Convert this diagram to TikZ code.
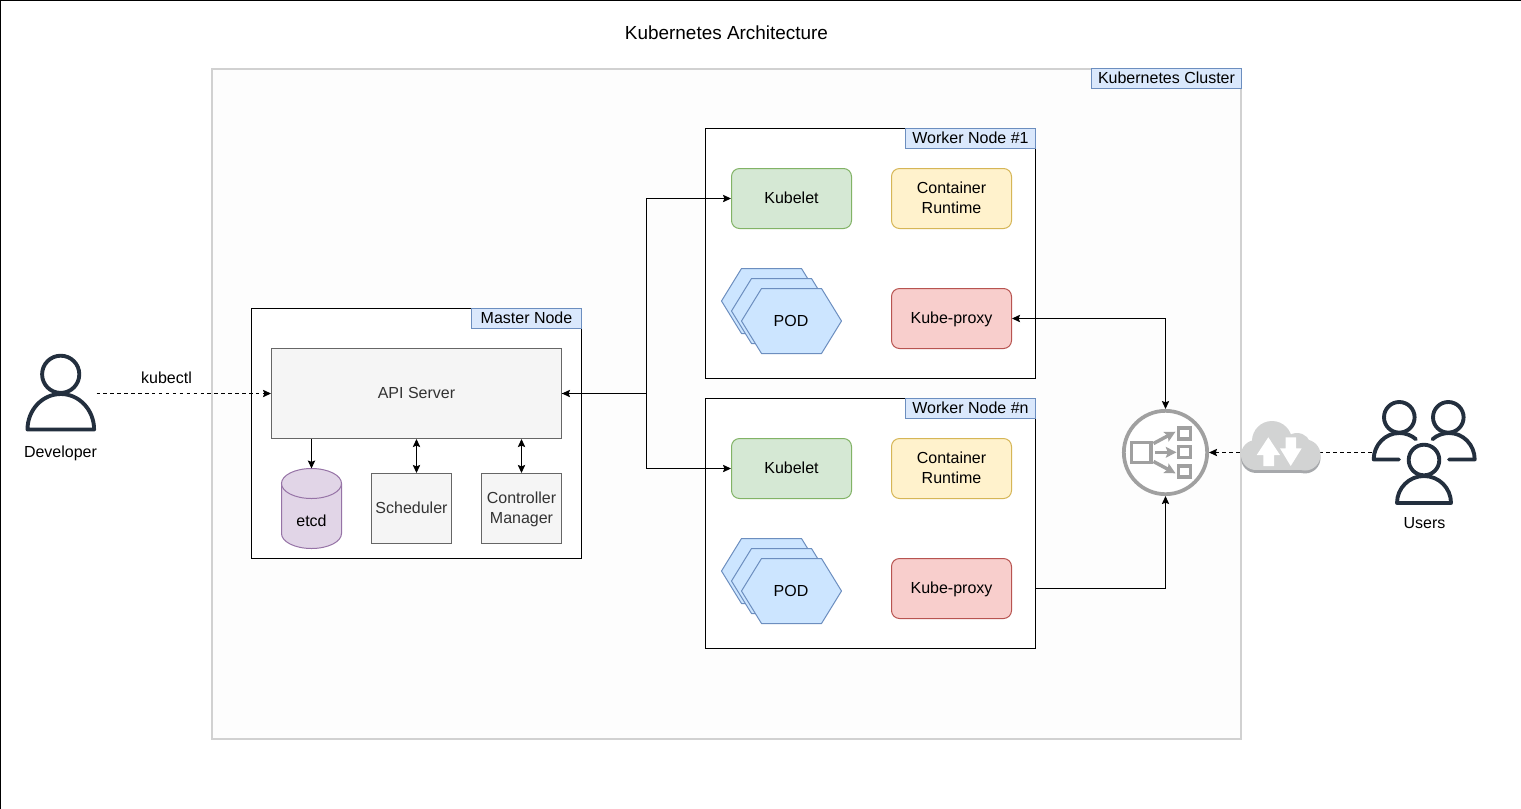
\documentclass[tikz,border=0pt]{standalone}
\usepackage{fontspec}
\setmainfont{Liberation Sans}
\usetikzlibrary{arrows.meta,calc}
\definecolor{blueF}{HTML}{DAE8FC}\definecolor{blueD}{HTML}{6C8EBF}
\definecolor{podF}{HTML}{CCE5FF}\definecolor{podD}{HTML}{6C8EBF}
\definecolor{greyF}{HTML}{F5F5F5}\definecolor{greyD}{HTML}{666666}
\definecolor{greenF}{HTML}{D5E8D4}\definecolor{greenD}{HTML}{82B366}
\definecolor{yelF}{HTML}{FFF2CC}\definecolor{yelD}{HTML}{D6B656}
\definecolor{redF}{HTML}{F8CECC}\definecolor{redD}{HTML}{B85450}
\definecolor{purF}{HTML}{E1D5E7}\definecolor{purD}{HTML}{9673A6}
\definecolor{ink}{HTML}{232F3E}\definecolor{lbgrey}{HTML}{A0A0A0}
\definecolor{cloudF}{HTML}{D2D3D3}\definecolor{cloudD}{HTML}{A7A9AC}
\definecolor{txtgrey}{HTML}{333333}\definecolor{clusterF}{HTML}{FDFDFD}
\tikzset{
  base/.style={font=\fontsize{12}{15}\selectfont,align=center,inner sep=0pt,line width=.75pt,
    execute at begin node={\rule[-3.75pt]{0pt}{15pt}},execute at end node={\rule[-3.75pt]{0pt}{15pt}}},
  tagbox/.style={base,draw=blueD,fill=blueF,minimum height=15pt},
  panel/.style={base,draw=black,fill=white,minimum width=247.5pt,minimum height=187.5pt},
  greybox/.style={base,draw=greyD,fill=greyF,text=txtgrey},
  comp/.style={base,rounded corners=6pt,minimum width=90pt,minimum height=45pt},
  kubelet/.style={comp,draw=greenD,fill=greenF},
  runtime/.style={comp,draw=yelD,fill=yelF},
  proxy/.style={comp,draw=redD,fill=redF},
  podhex/.style={line width=.75pt,draw=podD,fill=podF,line join=round},
  link/.style={line width=.75pt,draw=black,-{Stealth[length=6pt,width=5.5pt,inset=1pt]}},
  linkboth/.style={link,{Stealth[length=6pt,width=5.5pt,inset=1pt]}-{Stealth[length=6pt,width=5.5pt,inset=1pt]}},
  dashlink/.style={link,dash pattern=on 2.6pt off 2.6pt},
  person/.style={draw=ink,line width=2.9pt,line cap=round,line join=round},
  lbline/.style={draw=lbgrey,line width=2.8pt},
}
\newcommand{\twolines}[2]{\makebox[0pt]{\raisebox{7.5pt}[0pt][0pt]{#1}}\makebox[0pt]{\raisebox{-7.5pt}[0pt][0pt]{#2}}}
\newcommand{\hexat}[2]{\path[podhex] (#1,#2+32.5) -- (#1+20,#2) -- (#1+80,#2) -- (#1+100,#2+32.5) -- (#1+80,#2+65) -- (#1+20,#2+65) -- cycle;}
\newcommand{\cloudshape}[1]{%
  \fill[#1] (1272,441) circle (20);
  \fill[#1] (1297,447) circle (14);
  \fill[#1] (1256,455) circle (15);
  \fill[#1] (1305,455) circle (15.5);
  \fill[#1] (1256,440) rectangle (1305,470);}
\begin{document}
\begin{tikzpicture}[x=.75pt,y=-.75pt]
\useasboundingbox (0,0) rectangle (1521,808);
\clip (0,0) rectangle (1521,808);
\fill[white] (0,0) rectangle (1521,808);
\draw[line width=1.1pt,black] (.5,830) -- (.5,.5) -- (1540,.5);
\node[base,font=\fontsize{14.2}{17}\selectfont] (title) at (726.5,34.5) {Kubernetes Architecture};
% cluster
\node[base,draw=black!18,fill=clusterF,line width=1.5pt,minimum width=772pt,minimum height=502.5pt] (cluster) at (726.5,404) {};
\node[tagbox,minimum width=112pt] (clustertag) at (1166.5,78) {Kubernetes Cluster};
% master
\node[panel] (master) at (416.5,433.5) {};
\node[tagbox,minimum width=82.5pt] (mastertag) at (526.5,318.5) {Master Node};
\node[greybox,minimum width=217.5pt,minimum height=67.5pt] (api) at (416.5,393.5) {API Server};
\node[greybox,minimum width=60pt,minimum height=52.5pt] (sched) at (411.5,508.5) {Scheduler};
\node[greybox,minimum width=60pt,minimum height=52.5pt] (ctrl) at (521.5,508.5) {\twolines{Controller}{Manager}};
% etcd cylinder
\path[draw=purD,fill=purF,line width=.75pt] (281.5,483.5) -- (281.5,533.5) arc[start angle=180,end angle=360,x radius=30,y radius=-15] -- (341.5,483.5);
\path[draw=purD,fill=purF,line width=.75pt] (311.5,483.5) ellipse [x radius=30,y radius=15];
\node[base,minimum width=45pt,minimum height=60pt] (etcd) at (311.5,508.5) {};
\node[base] (etcdtext) at (311.5,521.5) {etcd};
% worker 1
\node[panel] (w1) at (870.5,253.5) {};
\node[tagbox,minimum width=97.5pt] (w1tag) at (970.5,138.5) {Worker Node \#1};
\node[kubelet] (kl1) at (791.5,198.5) {Kubelet};
\node[runtime] (cr1) at (951.5,198.5) {\twolines{Container}{Runtime}};
\node[proxy] (kp1) at (951.5,318.5) {Kube-proxy};
\hexat{721.5}{268.5}\hexat{731.5}{278.5}\hexat{741.5}{288.5}
\node[base] (pod1) at (791,321.5) {POD};
% worker n
\node[panel] (wn) at (870.5,523.5) {};
\node[tagbox,minimum width=97.5pt] (wntag) at (970.5,408.5) {Worker Node \#n};
\node[kubelet] (kln) at (791.5,468.5) {Kubelet};
\node[runtime] (crn) at (951.5,468.5) {\twolines{Container}{Runtime}};
\node[proxy] (kpn) at (951.5,588.5) {Kube-proxy};
\hexat{721.5}{538.5}\hexat{731.5}{548.5}\hexat{741.5}{558.5}
\node[base] (podn) at (791,591.5) {POD};
% icons as anchors
\node[base,minimum width=52.5pt,minimum height=60pt] (dev) at (61,393.5) {};
\node[base,minimum width=78pt,minimum height=30pt] (users) at (1424,452.5) {};
\node[base,circle,lbline,fill=white,minimum size=62.5pt] (lb) at (1165.5,452.5) {};
% connectors
\draw[dashlink] (dev.east) -- (api.west);
\node[base] (kubectl) at (166.5,378.5) {kubectl};
\draw[link] (etcd.north |- api.south) -- (etcd.north |- 0,468.5);
\draw[linkboth] (api.south) -- (api.south |- sched.north);
\draw[linkboth] (ctrl.north |- api.south) -- (ctrl.north);
\draw[linkboth] (api.east) -- ++(84.5,0) |- (kl1.west);
\draw[link] (api.east) -- ++(84.5,0) |- (kln.west);
\draw[linkboth] (kp1.east) -| (lb.north);
\draw[link] (wn.east |- kpn.east) -| (lb.south);
\draw[dashlink] (users.west) -- (lb.east);
% load balancer glyph
\draw[lbgrey,line width=2.6pt] (1131.5,442.5) rectangle (1151,462.5);
\foreach \yy in {433.5,452.3,471.5}{\draw[lbgrey,line width=2.3pt] (1178.8,\yy-5.5) rectangle (1190.5,\yy+5.5);}
\draw[lbgrey,line width=2.6pt,-{Stealth[length=8pt,width=8pt,inset=1.5pt]}] (1153.5,443.5) -- (1175.5,431.7);
\draw[lbgrey,line width=2.6pt,-{Stealth[length=8pt,width=8pt,inset=1.5pt]}] (1155,452.3) -- (1176.5,452.3);
\draw[lbgrey,line width=2.6pt,-{Stealth[length=8pt,width=8pt,inset=1.5pt]}] (1153.5,461.5) -- (1175.5,473.3);
% cloud
\begin{scope}[yshift=-2.2pt]\cloudshape{cloudD}\end{scope}
\cloudshape{cloudF}
\fill[white] (1268.3,437.3) -- (1280,455) -- (1274,455) -- (1274,466) -- (1263.3,466) -- (1263.3,455) -- (1256.7,455) -- cycle;
\fill[white] (1290.7,466) -- (1301.7,448.3) -- (1296,448.3) -- (1296,437.3) -- (1285.7,437.3) -- (1285.7,448.3) -- (1280,448.3) -- cycle;
% developer
\draw[person,fill=none] (60.7,374.3) circle (18.6);
\draw[person] (27.5,429.5) arc[start angle=180,end angle=0,x radius=33.3,y radius=-35.5] -- cycle;
\node[base] (devlabel) at (60.5,452.5) {Developer};
% users
\draw[person] (1399.3,417.3) circle (15.3);
\draw[person] (1448.3,417.3) circle (15.3);
\draw[person] (1424,460) circle (15.3);
\draw[person] (1397,503) arc[start angle=180,end angle=0,x radius=27,y radius=-27] -- cycle;
\draw[person] (1399,459.5) -- (1373.7,459.5) arc[start angle=180,end angle=50,x radius=25.7,y radius=-26.5];
\draw[person] (1449,459.5) -- (1474.7,459.5) arc[start angle=0,end angle=130,x radius=25.7,y radius=-26.5];
\node[base] (userslabel) at (1424.5,523.5) {Users};
\end{tikzpicture}
\end{document}
